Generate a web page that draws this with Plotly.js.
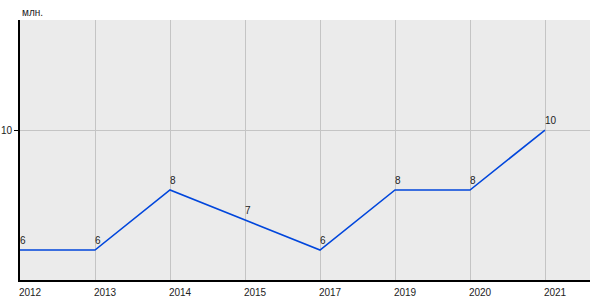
<!DOCTYPE html>
<html>
<head>
<meta charset="utf-8">
<script src="https://cdn.plot.ly/plotly-3.0.1.min.js"></script>
<style>html,body{margin:0;padding:0;background:#fff;}#chart{width:600px;height:300px;}</style>
</head>
<body>
<div id="chart"></div>
<script>
const years = ["2012", "2013", "2014", "2015", "2017", "2019", "2020", "2021"];
const values = [6, 6, 8, 7, 6, 8, 8, 10];
const labels = ["6", "6", "8", "7", "6", "8", "8", "10"];
const unitLabel = "млн.";

const trace = {
  x: years,
  y: values,
  type: "scatter",
  mode: "lines",
  line: {color: "#0046dc", width: 1.6},
  hoverinfo: "none"
};

// value labels, placed at each category index (category axis position)
const valueAnnotations = years.map((yr, i) => ({
  x: i, y: values[i], xref: "x", yref: "y",
  text: labels[i], showarrow: false,
  xanchor: "left", yanchor: "bottom",
  xshift: -2, yshift: 2,
  font: {family: "Liberation Sans, Arial, sans-serif", size: 10, color: "#222"}
}));

const layout = {
  width: 600, height: 300,
  margin: {l: 20, r: 10, t: 20, b: 20},
  paper_bgcolor: "#ffffff",
  plot_bgcolor: "#ebebeb",
  showlegend: false,
  font: {family: "Liberation Sans, Arial, sans-serif", size: 10, color: "#222"},
  xaxis: {
    type: "category",
    range: [0, 7.6],
    showgrid: true, gridcolor: "#c4c4c4", gridwidth: 1,
    showline: true, linecolor: "#000", linewidth: 2,
    ticks: "", ticklabelshift: 10, ticklabelstandoff: 2,
    zeroline: false, fixedrange: true
  },
  yaxis: {
    range: [5, 13.667],
    tickvals: [10],
    ticktext: ["10"],
    showgrid: true, gridcolor: "#c4c4c4", gridwidth: 1,
    showline: true, linecolor: "#000", linewidth: 2,
    ticks: "outside", ticklen: 4, tickcolor: "#000",
    zeroline: false, fixedrange: true
  },
  annotations: [{
    text: unitLabel, xref: "paper", yref: "paper", x: 0, y: 1,
    xanchor: "left", yanchor: "bottom", showarrow: false,
    font: {size: 10, color: "#222"}, yshift: 0
  }].concat(valueAnnotations)
};

Plotly.newPlot("chart", [trace], layout, {displayModeBar: false, staticPlot: true});
</script>
</body>
</html>
